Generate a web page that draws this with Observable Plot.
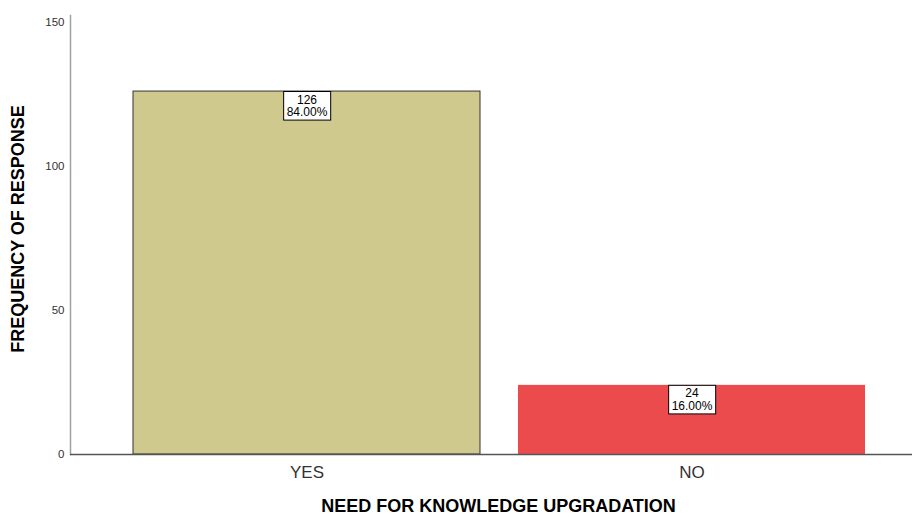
<!DOCTYPE html>
<html>
<head>
<meta charset="utf-8">
<script src="https://cdn.jsdelivr.net/npm/d3@7"></script>
<script src="https://cdn.jsdelivr.net/npm/@observablehq/plot@0.6"></script>
<style>
  html, body { margin: 0; padding: 0; background: #fff; }
  #chart { width: 915px; height: 518px; }
  svg { font-family: "Liberation Sans", Arial, sans-serif; }
</style>
</head>
<body>
<div id="chart"></div>
<script>
const categories = ["YES", "NO"];
const counts = [126, 24];
const percents = ["84.00%", "16.00%"];
const fills = ["#cfc98d", "#ec4b4e"];
const strokes = ["#333333", "none"];
const yTicks = [0, 50, 100, 150];
const xTitle = "NEED FOR KNOWLEDGE UPGRADATION";
const yTitle = "FREQUENCY OF RESPONSE";

const data = categories.map((c, i) => ({cat: c, count: counts[i], pct: percents[i], fill: fills[i], stroke: strokes[i]}));

const chart = Plot.plot({
  width: 915,
  height: 518,
  marginTop: 15,
  marginBottom: 64,
  marginLeft: 70,
  marginRight: 3,
  style: {fontFamily: "'Liberation Sans', Arial, sans-serif", background: "#fff"},
  x: {domain: categories, range: [93.5, 903], paddingInner: 0.1, paddingOuter: 0.1},
  y: {domain: [0, 152.4]},
  marks: [
    Plot.barY(data, {x: "cat", y: "count", fill: "fill", stroke: "stroke", strokeWidth: 1}),
    Plot.frame({anchor: "left", stroke: "#a0a0a0", strokeWidth: 1.5}),
    Plot.ruleY([0], {stroke: "#555", strokeWidth: 1.5}),
    Plot.axisY({ticks: yTicks, tickSize: 0, tickPadding: 6, fontSize: 11.5, color: "#333", label: null}),
    Plot.axisX({tickSize: 0, tickPadding: 11, fontSize: 17, color: "#333", label: null}),
    Plot.text([xTitle], {text: d => d, frameAnchor: "bottom", textAnchor: "middle", dy: 57, dx: 7, fontSize: 18, fontWeight: "bold", fill: "#000"}),
    Plot.text([yTitle], {text: d => d, frameAnchor: "left", textAnchor: "middle", rotate: -90, dx: -52, dy: -6, fontSize: 18, fontWeight: "bold", fill: "#000"}),
    Plot.text(data, {x: "cat", y: "count", text: d => `${d.count}\n${d.pct}`, lineAnchor: "top", dy: 3, fontSize: 12, fill: "#000", lineHeight: 1.05, className: "vlabel"})
  ]
});
document.getElementById("chart").appendChild(chart);

// draw white boxes behind the value labels, sized from the rendered text
const svgNS = "http://www.w3.org/2000/svg";
chart.querySelectorAll(".vlabel text").forEach(t => {
  const b = t.getBBox();
  const r = document.createElementNS(svgNS, "rect");
  const padX = 3, padY = 1;
  r.setAttribute("x", b.x - padX);
  r.setAttribute("y", b.y - padY);
  r.setAttribute("width", b.width + 2 * padX);
  r.setAttribute("height", b.height + 2 * padY);
  r.setAttribute("fill", "#fff");
  r.setAttribute("stroke", "#000");
  r.setAttribute("stroke-width", "1");
  const tr = t.getAttribute("transform");
  if (tr) r.setAttribute("transform", tr);
  t.parentNode.insertBefore(r, t);
});
</script>
</body>
</html>
